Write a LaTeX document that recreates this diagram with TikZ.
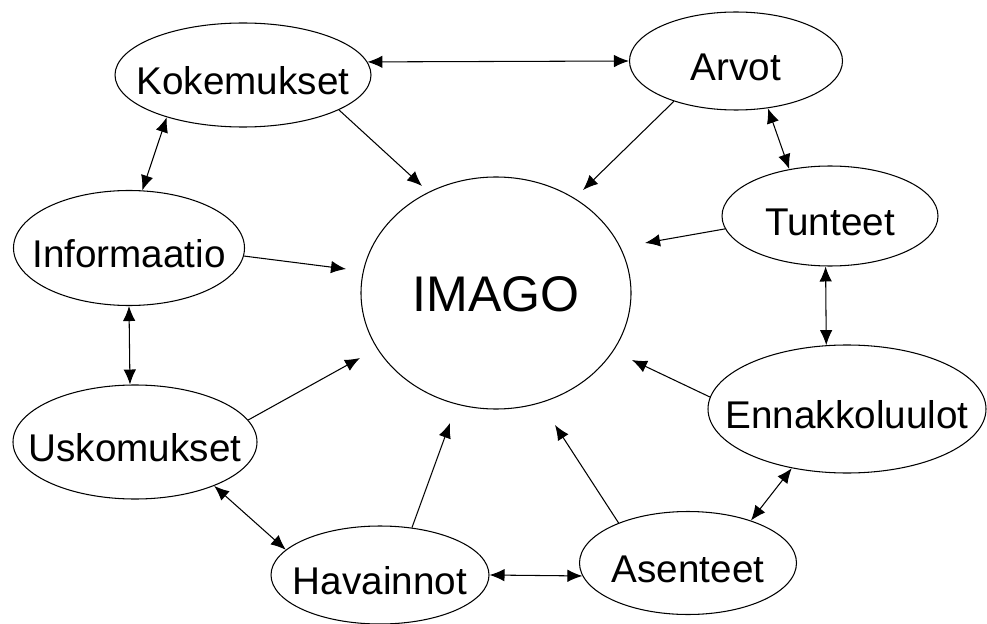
\documentclass[tikz,border=0pt]{standalone}
\usepackage{fontspec}
\setmainfont{Liberation Sans}
\usepackage{tikz}
\usetikzlibrary{arrows.meta, shapes.geometric}
\newcommand{\bubtext}[2][3.85mm]{\makebox[0pt]{\raisebox{-#1}[0pt][0pt]{#2}}}

\begin{document}
\begin{tikzpicture}[>={Latex[length=3mm,width=2.5mm]}, line width=0.6pt,
    bubble/.style={draw, ellipse, inner sep=0pt, font=\fontsize{22}{26}\selectfont}]
    \useasboundingbox (0,0) rectangle (19.74,12.46);

    % Center
    \node[bubble, minimum width=5.4cm, minimum height=4.64cm,
      font=\fontsize{28.5}{32}\selectfont] (imago) at (9.92,6.6) {\bubtext[3.6mm]{IMAGO}};

    % Surrounding ideas
    \node[bubble, minimum width=5.12cm, minimum height=2.08cm] (kok) at (4.86,10.96) {\bubtext{Kokemukset}};
    \node[bubble, minimum width=4.26cm, minimum height=1.96cm] (arvot) at (14.72,11.24) {\bubtext{Arvot}};
    \node[bubble, minimum width=4.32cm, minimum height=2.0cm] (tunteet) at (16.6,8.14) {\bubtext{Tunteet}};
    \node[bubble, minimum width=5.56cm, minimum height=2.56cm] (ennakko) at (16.94,4.28) {\bubtext{Ennakkoluulot}};
    \node[bubble, minimum width=4.34cm, minimum height=2.06cm] (asen) at (13.76,1.2) {\bubtext{Asenteet}};
    \node[bubble, minimum width=4.36cm, minimum height=1.96cm] (hav) at (7.6,0.96) {\bubtext{Havainnot}};
    \node[bubble, minimum width=4.88cm, minimum height=2.28cm] (usko) at (2.7,3.62) {\bubtext{Uskomukset}};
    \node[bubble, minimum width=4.62cm, minimum height=2.3cm] (info) at (2.58,7.5) {\bubtext{Informaatio}};

    % Arrow ends near IMAGO
    \coordinate (to-kok) at (8.44,8.74);
    \coordinate (to-arvot) at (11.66,8.66);
    \coordinate (to-tunteet) at (12.9,7.6);
    \coordinate (to-ennakko) at (12.64,5.26);
    \coordinate (to-asen) at (11.1,3.96);
    \coordinate (to-hav) at (9.0,4.0);
    \coordinate (to-usko) at (7.2,5.3);
    \coordinate (to-info) at (6.92,7.08);

    % Into IMAGO
    \draw[->] (kok.-20) -- (to-kok);
    \draw[->] (arvot.-147) -- (to-arvot);
    \draw[->] (tunteet.187) -- (to-tunteet);
    \draw[->] (ennakko.175) -- (to-ennakko);
    \draw[->] (asen.150) -- (to-asen);
    \draw[->] (hav.56) -- (to-hav);
    \draw[->] (usko.11) -- (to-usko);
    \draw[->] (info.-4) -- (to-info);

    % Around the ring
    \draw[<->] (kok.6) -- (arvot.180);
    \draw[<->] (arvot.-56) -- (tunteet.131);
    \draw[<->] (tunteet.265) -- (ennakko.108);
    \draw[<->] (ennakko.227) -- (asen.34);
    \draw[<->] (hav.east) -- (asen.187);
    \draw[<->] (usko.-29) -- (hav.165);
    \draw[<->] (info.south) -- (usko.95);
    \draw[<->] (kok.209) -- (info.77);
\end{tikzpicture}
\end{document}
